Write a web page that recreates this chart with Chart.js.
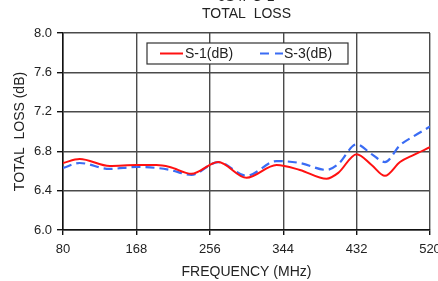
<!DOCTYPE html>
<html>
<head>
<meta charset="utf-8">
<script src="https://cdn.jsdelivr.net/npm/chart.js@4"></script>
<style>
  html, body { margin: 0; padding: 0; background: #fff; overflow: hidden; width: 438px; height: 281px; }
  #wrap { position: absolute; left: 0; top: -11px; width: 452px; height: 292px; }
</style>
</head>
<body>
<div id="wrap"><canvas id="myChart"></canvas></div>
<script>
// values
let freq = [80, 100, 136, 168, 192, 208, 234, 266, 300, 336, 364, 396, 410, 432, 450, 466, 484, 500, 520]
let s1 = [6.68, 6.72, 6.65, 6.66, 6.66, 6.64, 6.57, 6.69, 6.53, 6.66, 6.61, 6.52, 6.58, 6.77, 6.66, 6.55, 6.69, 6.76, 6.84]
let s3 = [6.63, 6.68, 6.62, 6.64, 6.63, 6.61, 6.56, 6.69, 6.55, 6.70, 6.68, 6.61, 6.67, 6.87, 6.77, 6.69, 6.86, 6.95, 7.05]

let xTicks = [80, 168, 256, 344, 432, 520]
let yTicks = [6.0, 6.4, 6.8, 7.2, 7.6, 8.0]
let seriesNames = ['S-1(dB)', 'S-3(dB)']

const FONT = 'Liberation Sans, Arial, sans-serif'
const RED = '#ff1111'
const BLUE = '#3a6cf4'

function pts(ys){
  return freq.map((f, i) => ({x: f, y: ys[i]}))
}

// legend box drawn inside the plot
const boxLegend = {
  id: 'boxLegend',
  afterDraw(chart){
    const c = chart.ctx
    const a = chart.chartArea
    const x0 = 147, y0 = a.top + 10, w = 201, h = 21
    c.save()
    c.fillStyle = '#fff'
    c.fillRect(x0, y0, w, h)
    c.strokeStyle = '#333'
    c.lineWidth = 1.2
    c.strokeRect(x0, y0, w, h)
    const cy = y0 + h / 2
    c.lineWidth = 2
    c.strokeStyle = RED
    c.beginPath(); c.moveTo(160, cy); c.lineTo(183, cy); c.stroke()
    c.strokeStyle = BLUE
    c.setLineDash([9, 6])
    c.beginPath(); c.moveTo(260, cy); c.lineTo(283, cy); c.stroke()
    c.setLineDash([])
    c.fillStyle = '#222'
    c.font = '14px ' + FONT
    c.textBaseline = 'middle'
    c.fillText(seriesNames[0], 185, cy + 1)
    c.fillText(seriesNames[1], 284, cy + 1)
    c.restore()
  }
}

new Chart(document.getElementById('myChart'), {
  type: 'line',
  data: {
    datasets: [{
      label: seriesNames[0],
      data: pts(s1),
      borderColor: RED,
      borderWidth: 2,
      pointRadius: 0,
      cubicInterpolationMode: 'monotone'
    }, {
      label: seriesNames[1],
      data: pts(s3),
      borderColor: BLUE,
      borderWidth: 2.2,
      borderDash: [9, 5],
      pointRadius: 0,
      cubicInterpolationMode: 'monotone'
    }]
  },
  options: {
    responsive: true,
    maintainAspectRatio: false,
    animation: false,
    layout: { padding: { left: 0, right: 22, top: 0, bottom: 0 } },
    plugins: {
      legend: { display: false },
      tooltip: { enabled: false },
      title: {
        display: true,
        fullSize: false,
        text: ['JS4PC-1', 'TOTAL  LOSS'],
        color: '#222',
        font: { family: FONT, size: 14, weight: 'normal', lineHeight: 1.2 },
        padding: { top: 0, bottom: 10.4 }
      }
    },
    scales: {
      x: {
        type: 'linear',
        min: 80,
        max: 520,
        afterBuildTicks(s){ s.ticks = xTicks.map(v => ({value: v})) },
        afterFit(s){ s.height = 51 },
        ticks: { color: '#222', font: { family: FONT, size: 13 }, padding: 7, maxRotation: 0 },
        grid: { color: '#4a4a4a', lineWidth: 1.4, tickLength: 5, tickColor: '#111' },
        border: { color: '#111', width: 1.5 },
        title: { display: true, text: 'FREQUENCY (MHz)', color: '#222', font: { family: FONT, size: 14 }, padding: { top: 2, bottom: 0 } }
      },
      y: {
        min: 6.0,
        max: 8.0,
        afterBuildTicks(s){ s.ticks = yTicks.map(v => ({value: v})) },
        afterFit(s){ s.width = 63 },
        ticks: { color: '#222', font: { family: FONT, size: 13 }, padding: 5, callback: v => v.toFixed(1) },
        grid: { color: '#4a4a4a', lineWidth: 1.4, tickLength: 6, tickColor: '#111' },
        border: { color: '#111', width: 1.5 },
        title: { display: true, text: 'TOTAL  LOSS (dB)', color: '#222', font: { family: FONT, size: 14 }, padding: { top: 12, bottom: 0 } }
      }
    }
  },
  plugins: [boxLegend]
})
</script>
</body>
</html>
